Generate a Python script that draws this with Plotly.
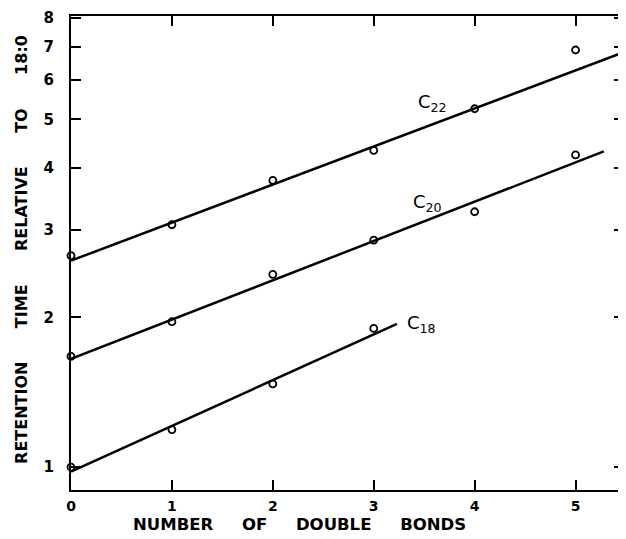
import math
import plotly.graph_objects as go

# Data
double_bonds = [0, 1, 2, 3, 4, 5]
c22_values = [2.66, 3.07, 3.77, 4.33, 5.25, 6.89]
c20_values = [1.67, 1.96, 2.44, 2.86, 3.26, 4.24]
c18_bonds = [0, 1, 2, 3]
c18_values = [1.00, 1.19, 1.47, 1.90]

# Fitted lines (endpoints)
c22_fit_x = [0, 5.48]
c22_fit_y = [2.60, 6.82]
c20_fit_x = [0, 5.28]
c20_fit_y = [1.65, 4.31]
c18_fit_x = [0, 3.23]
c18_fit_y = [0.98, 1.94]

label_texts = ["C<sub>22</sub>", "C<sub>20</sub>", "C<sub>18</sub>"]
label_x = [3.58, 3.53, 3.47]
label_y = [5.40, 3.40, 1.94]

y_ticks = [1, 2, 3, 4, 5, 6, 7, 8]
x_ticks = [0, 1, 2, 3, 4, 5]

GAP_X = "&nbsp;" * 5
GAP_Y = "&nbsp;" * 6
x_title = GAP_X.join(["NUMBER", "OF", "DOUBLE", "BONDS"])
y_title = GAP_Y.join(["RETENTION", "TIME", "RELATIVE", "TO", "18:0"])

FONT = "DejaVu Sans"

fig = go.Figure()
line_style = dict(color="black", width=2.5)
marker_style = dict(symbol="circle-open", size=7, color="black", line=dict(width=1.8, color="black"))

for fx, fy in [(c22_fit_x, c22_fit_y), (c20_fit_x, c20_fit_y), (c18_fit_x, c18_fit_y)]:
    fig.add_trace(go.Scatter(x=fx, y=fy, mode="lines", line=line_style, showlegend=False, hoverinfo="skip"))

for xs, ys in [(double_bonds, c22_values), (double_bonds, c20_values), (c18_bonds, c18_values)]:
    fig.add_trace(go.Scatter(x=xs, y=ys, mode="markers", marker=marker_style, showlegend=False, cliponaxis=False))

for t, lx, ly in zip(label_texts, label_x, label_y):
    fig.add_annotation(x=lx, y=math.log10(ly), xref="x", yref="y", text=t, showarrow=False,
                       font=dict(family=FONT, size=18, color="black"))

fig.add_annotation(xref="paper", yref="paper", x=0.413, y=-0.0737, text=x_title, showarrow=False,
                   xanchor="center", yanchor="middle",
                   font=dict(family=FONT, size=16.5, weight="bold", color="black"))
fig.add_annotation(xref="paper", yref="paper", x=-0.090, y=0.507, text=y_title, showarrow=False,
                   textangle=-90, xanchor="center", yanchor="middle",
                   font=dict(family=FONT, size=16, weight="bold", color="black"))

# The page body adds an 8 px margin; size the figure so it fills the 626x539 window exactly.
fig.update_layout(
    width=618, height=531,
    margin=dict(l=63, r=0, t=8, b=49),
    paper_bgcolor="white", plot_bgcolor="white",
    font=dict(family=FONT, color="black"),
    xaxis=dict(range=[0, 5.48], tickvals=x_ticks, ticktext=[str(v) for v in x_ticks],
               ticks="inside", ticklen=10, tickwidth=2, tickcolor="black",
               showline=True, linecolor="black", linewidth=2, mirror="allticks",
               showgrid=False, zeroline=False, ticklabelstandoff=2,
               tickfont=dict(family=FONT, size=14, weight="bold")),
    yaxis=dict(type="log", range=[-0.0458, 0.9065], tickvals=y_ticks,
               ticktext=[str(v) for v in y_ticks],
               ticks="inside", ticklen=10, tickwidth=2, tickcolor="black",
               showline=True, linecolor="black", linewidth=2, mirror="allticks",
               showgrid=False, zeroline=False, ticklabelstandoff=12,
               tickfont=dict(family=FONT, size=15, weight="bold")),
)

fig.write_html("out.html")
